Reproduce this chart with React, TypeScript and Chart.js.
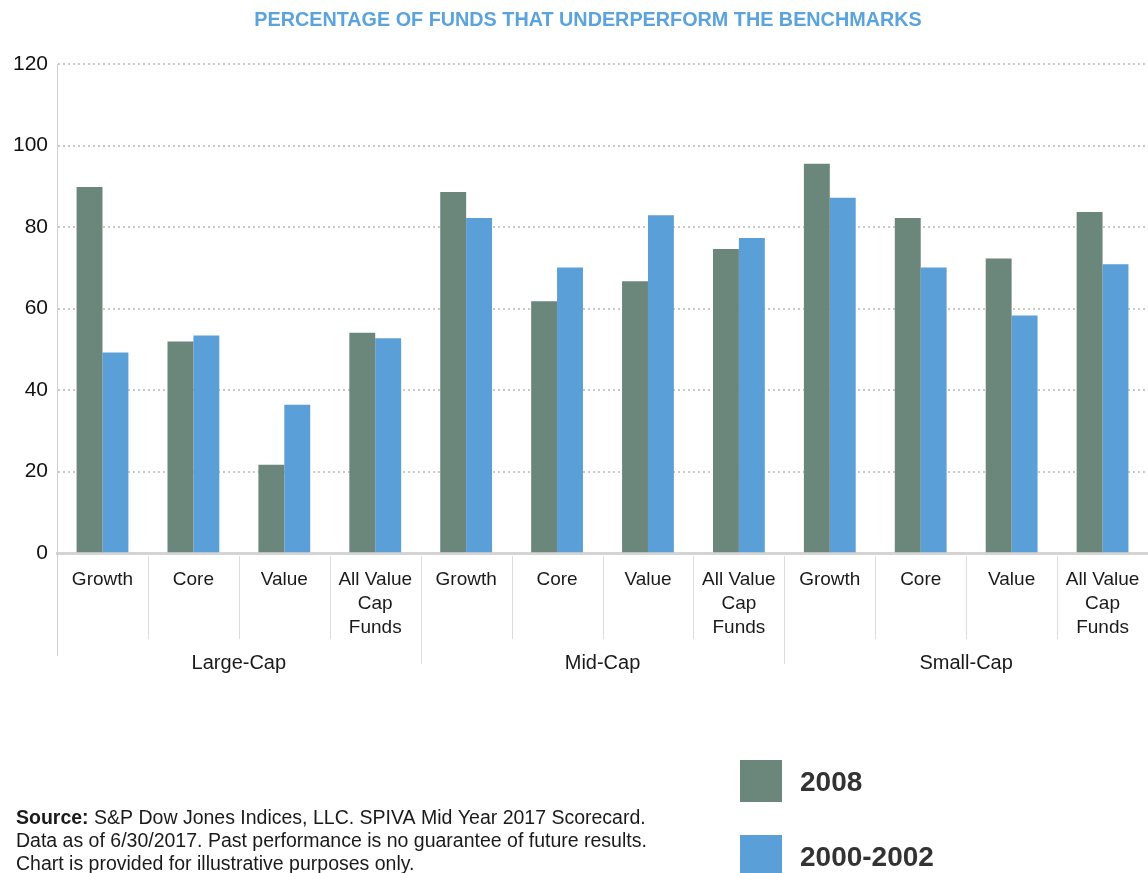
import React, { useEffect, useRef } from "react";
import { Chart, registerables } from "chart.js";

Chart.register(...registerables);

const titleText = "PERCENTAGE OF FUNDS THAT UNDERPERFORM THE BENCHMARKS";
const groups = ["Large-Cap", "Mid-Cap", "Small-Cap"];
const subCategories: string[][] = [["Growth"], ["Core"], ["Value"], ["All Value", "Cap", "Funds"]];
const seriesNames = ["2008", "2000-2002"];
const values2008 = [89.8, 51.9, 21.7, 54.1, 88.6, 61.8, 66.7, 74.6, 95.5, 82.2, 72.3, 83.7];
const values2000 = [49.2, 53.4, 36.4, 52.7, 82.2, 70.1, 82.9, 77.3, 87.2, 70.1, 58.3, 70.9];
const yTicks = [0, 20, 40, 60, 80, 100, 120];
const sourceLines = [
  "S&P Dow Jones Indices, LLC. SPIVA Mid Year 2017 Scorecard.",
  "Data as of 6/30/2017. Past performance is no guarantee of future results.",
  "Chart is provided for illustrative purposes only.",
];

const FONT = '"Liberation Sans", Arial, Helvetica, sans-serif';
const GREEN = "#6b867b";
const BLUE = "#5a9fd8";

const extrasPlugin = {
  id: "extras",
  afterDraw(chart: any) {
    const { ctx, chartArea, scales } = chart;
    const x = scales.x;
    ctx.save();
    // title
    ctx.fillStyle = "#5ba3dc";
    ctx.font = `bold 19.8px ${FONT}`;
    ctx.textAlign = "center";
    ctx.textBaseline = "middle";
    ctx.fillText(titleText, 588, 21);

    // separators
    const n = chart.data.labels.length;
    const perGroup = subCategories.length;
    ctx.strokeStyle = "#dcdcdc";
    ctx.lineWidth = 1;
    for (let i = 1; i < n; i++) {
      const bx = Math.round((x.getPixelForValue(i - 1) + x.getPixelForValue(i)) / 2) + 0.5;
      const isGroup = i % perGroup === 0;
      ctx.beginPath();
      ctx.moveTo(bx, chartArea.bottom + 3);
      ctx.lineTo(bx, isGroup ? chartArea.bottom + 111 : chartArea.bottom + 86);
      ctx.stroke();
    }
    // y axis extension
    ctx.strokeStyle = "#cfcfcf";
    ctx.beginPath();
    ctx.moveTo(Math.round(chartArea.left) + 0.5, chartArea.bottom);
    ctx.lineTo(Math.round(chartArea.left) + 0.5, chartArea.bottom + 103);
    ctx.stroke();

    // group labels
    ctx.fillStyle = "#1a1a1a";
    ctx.font = `20px ${FONT}`;
    ctx.textAlign = "center";
    groups.forEach((g, gi) => {
      const first = gi * perGroup;
      const last = first + perGroup - 1;
      const half = (x.getPixelForValue(1) - x.getPixelForValue(0)) / 2;
      const l = x.getPixelForValue(first) - half;
      const r = x.getPixelForValue(last) + half;
      ctx.fillText(g, (l + r) / 2, chartArea.bottom + 110);
    });

    // source text
    ctx.textAlign = "left";
    ctx.textBaseline = "middle";
    ctx.fillStyle = "#1a1a1a";
    ctx.font = `bold 19.5px ${FONT}`;
    const srcLabel = "Source: ";
    ctx.fillText(srcLabel, 16, 819);
    const w = ctx.measureText(srcLabel).width;
    ctx.font = `19.5px ${FONT}`;
    ctx.fillText(sourceLines[0], 16 + w, 819);
    ctx.fillText(sourceLines[1], 16, 842);
    ctx.fillText(sourceLines[2], 16, 865);

    // legend
    const legendY = [760, 835];
    chart.data.datasets.forEach((ds: any, i: number) => {
      ctx.fillStyle = ds.backgroundColor;
      ctx.fillRect(740, legendY[i], 42, 42);
      ctx.fillStyle = "#333333";
      ctx.font = `bold 28px ${FONT}`;
      ctx.fillText(ds.label, 800, legendY[i] + 23);
    });
    ctx.restore();
  },
};

export default function App() {
  const ref = useRef<HTMLCanvasElement | null>(null);
  useEffect(() => {
    if (!ref.current) return;
    const labels: string[][] = [];
    groups.forEach(() => subCategories.forEach((s) => labels.push(s)));
    const chart = new Chart(ref.current, {
      type: "bar",
      data: {
        labels,
        datasets: [
          { label: seriesNames[0], data: values2008, backgroundColor: GREEN },
          { label: seriesNames[1], data: values2000, backgroundColor: BLUE },
        ],
      },
      options: {
        responsive: false,
        animation: false,
        layout: { padding: { top: 64, left: 4, right: 0, bottom: 226 } },
        plugins: { legend: { display: false }, title: { display: false }, tooltip: { enabled: false } },
        datasets: { bar: { categoryPercentage: 0.57, barPercentage: 1 } },
        scales: {
          x: {
            grid: { display: false },
            border: { display: true, color: "#d4d4d4", width: 3 },
            ticks: {
              font: { family: FONT, size: 19, lineHeight: 1.26 },
              color: "#1a1a1a",
              padding: 7,
              maxRotation: 0,
              autoSkip: false,
            },
          },
          y: {
            min: 0,
            max: 120,
            afterBuildTicks: (axis: any) => {
              axis.ticks = yTicks.map((v) => ({ value: v }));
            },
            grid: {
              drawTicks: false,
              color: (c: any) => (c.tick && c.tick.value === 0 ? "rgba(0,0,0,0)" : "#c9c9c9"),
              lineWidth: 2,
            },
            border: { display: true, color: "#cfcfcf", width: 1, dash: [2, 3] as any },
            ticks: {
              font: { family: FONT, size: 21 },
              color: "#111111",
              padding: 9,
            },
          },
        },
      },
      plugins: [extrasPlugin],
    });
    return () => chart.destroy();
  }, []);
  return (
    <div style={{ position: "absolute", left: 0, top: 0, width: 1148, height: 873 }}>
      <canvas ref={ref} width={1148} height={873} style={{ display: "block" }} />
    </div>
  );
}
